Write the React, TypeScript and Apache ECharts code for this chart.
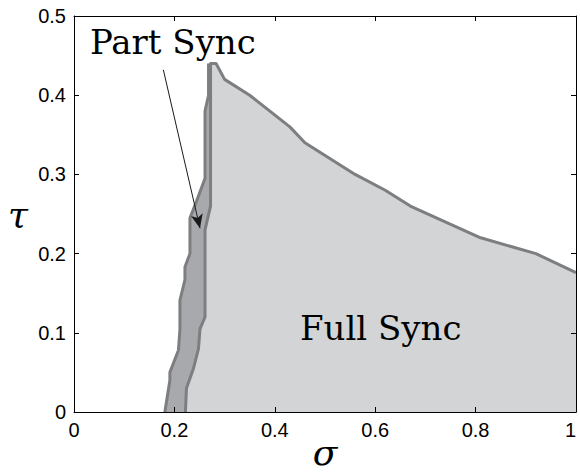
import React, { useEffect, useRef } from 'react';
import * as echarts from 'echarts';

// left edge of the partial-sync region (sigma, tau)
const partSyncEdge: [number, number][] = [
  [0.181, 0], [0.191, 0.04], [0.191, 0.05], [0.208, 0.078], [0.211, 0.104],
  [0.211, 0.141], [0.221, 0.167], [0.221, 0.183], [0.231, 0.2], [0.231, 0.245],
  [0.244, 0.266], [0.261, 0.295], [0.261, 0.38], [0.268, 0.4], [0.268, 0.44],
];
// left edge of the full-sync region
const fullSyncEdge: [number, number][] = [
  [0.222, 0], [0.224, 0.03], [0.238, 0.055], [0.248, 0.08], [0.251, 0.105],
  [0.261, 0.12], [0.261, 0.23], [0.272, 0.26], [0.272, 0.44],
];
// upper boundary shared by both regions
const topEdge: [number, number][] = [
  [0.283, 0.44], [0.3, 0.42], [0.35, 0.4], [0.43, 0.36], [0.46, 0.34],
  [0.56, 0.3], [0.62, 0.28], [0.67, 0.26], [0.81, 0.22], [0.92, 0.2], [1.0, 0.176],
];
const cornerPoint: [number, number] = [1, 0];
const arrowStart: [number, number] = [0.178, 0.432];
const arrowEnd: [number, number] = [0.251, 0.232];

const partLabel = 'Part Sync';
const fullLabel = 'Full Sync';

const LIGHT = '#d3d4d6';
const DARK = '#a8a9ac';
const EDGE = '#7d7e80';

export default function App() {
  const ref = useRef<HTMLDivElement>(null);
  useEffect(() => {
    document.body.style.margin = '0';
    const chart = echarts.init(ref.current!, null, { renderer: 'svg' });
    const darkPoly = [...partSyncEdge, ...topEdge, cornerPoint];
    const lightPoly = [...fullSyncEdge, ...topEdge, cornerPoint];
    const tickLabel = { color: '#000', fontFamily: 'Liberation Sans', fontSize: 20, margin: 8 };
    const line = { lineStyle: { color: '#000', width: 1 }, onZero: false };
    const tick = { inside: true, length: 5, lineStyle: { color: '#000' } };
    const greek = { fontFamily: 'DejaVu Serif', fontStyle: 'italic', fontSize: 36, color: '#000' };
    chart.setOption({
      animation: false,
      grid: { left: 74, top: 16, right: 4, bottom: 60, outerBoundsMode: 'none', containLabel: false },
      xAxis: [
        {
          type: 'value', min: 0, max: 1, interval: 0.2, position: 'bottom', z: 5,
          axisLine: line, axisTick: tick, splitLine: { show: false },
          axisLabel: { ...tickLabel, alignMaxLabel: 'right' },
          name: 'σ', nameLocation: 'middle', nameGap: 22, nameMoveOverlap: false, nameTextStyle: greek,
        },
        {
          type: 'value', min: 0, max: 1, interval: 0.2, position: 'top', z: 5,
          axisLine: line, axisTick: tick, splitLine: { show: false }, axisLabel: { show: false },
        },
      ],
      yAxis: [
        {
          type: 'value', min: 0, max: 0.5, interval: 0.1, position: 'left', z: 5,
          axisLine: line, axisTick: tick, splitLine: { show: false }, axisLabel: tickLabel,
          name: 'τ', nameLocation: 'middle', nameGap: 46, nameRotate: 0, nameMoveOverlap: false, nameTextStyle: greek,
        },
        {
          type: 'value', min: 0, max: 0.5, interval: 0.1, position: 'right', z: 5,
          axisLine: line, axisTick: tick, splitLine: { show: false }, axisLabel: { show: false },
        },
      ],
      series: [
        {
          type: 'custom', xAxisIndex: 0, yAxisIndex: 0, silent: true, z: 1,
          data: [[0, 0]],
          renderItem: (params: any, api: any) => {
            if (params.dataIndex !== 0) return null;
            return {
              type: 'group',
              children: [
                { type: 'polygon', shape: { points: darkPoly.map((p) => api.coord(p)) }, style: { fill: DARK } },
                { type: 'polygon', shape: { points: lightPoly.map((p) => api.coord(p)) }, style: { fill: LIGHT } },
              ],
            };
          },
        },
        {
          type: 'line', xAxisIndex: 0, yAxisIndex: 0, silent: true, z: 3,
          data: partSyncEdge, showSymbol: false, symbol: 'none',
          lineStyle: { color: EDGE, width: 3, join: 'round' },
          markLine: {
            silent: true, symbol: ['none', 'arrow'], symbolSize: [9, 14],
            label: { show: false },
            lineStyle: { color: '#1a1a1a', width: 1, type: 'solid' },
            data: [[{ coord: arrowStart }, { coord: arrowEnd }]],
          },
        },
        {
          type: 'line', xAxisIndex: 0, yAxisIndex: 0, silent: true, z: 3,
          data: [...fullSyncEdge, ...topEdge], showSymbol: false, symbol: 'none',
          lineStyle: { color: EDGE, width: 3, join: 'round' },
        },
      ],
      graphic: [
        {
          type: 'text', x: 90, y: 42, z: 10,
          style: { text: partLabel, fill: '#000', font: '34px "DejaVu Serif"', verticalAlign: 'middle' },
        },
        {
          type: 'text', x: 300, y: 328, z: 10,
          style: { text: fullLabel, fill: '#000', font: '34px "DejaVu Serif"', verticalAlign: 'middle' },
        },
      ],
    });
    return () => chart.dispose();
  }, []);
  return <div ref={ref} style={{ width: 580, height: 472 }} />;
}
